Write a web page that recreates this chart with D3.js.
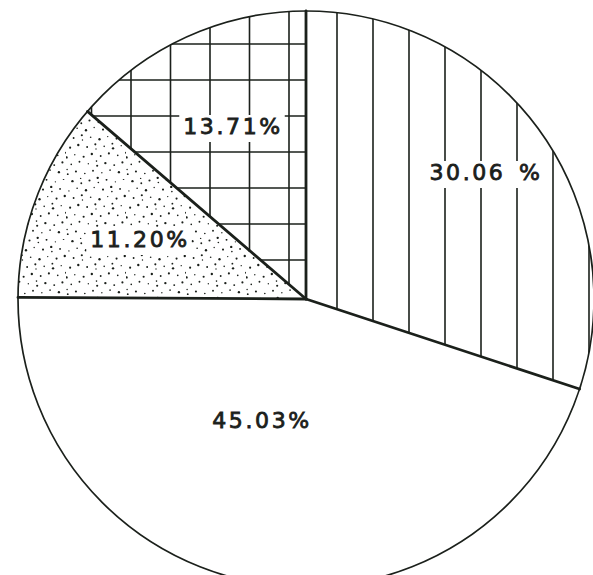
<!DOCTYPE html>
<html>
<head>
<meta charset="utf-8">
<script src="https://cdn.jsdelivr.net/npm/d3@7"></script>
<style>
  html, body { margin: 0; padding: 0; background: #fff; }
  svg { display: block; }
</style>
</head>
<body>
<svg id="chart" width="593" height="575"></svg>
<script>
// Shares of the whole, clockwise from twelve o'clock
const categories = ["A", "B", "C", "D"];
const shares = [30.06, 45.03, 11.20, 13.71];
const labelText = ["30.06 %", "45.03%", "11.20%", "13.71%"];
const fills = ["vertical", "blank", "stipple", "grid"];

const W = 593, H = 575;
const cx = 306, cy = 299, R = 288;
const ink = "#1b201b";

const svg = d3.select("#chart");
const defs = svg.append("defs");

// stipple tile: dots spread by an R2 low-discrepancy sequence
const tile = 60;
const dots = defs.append("pattern")
  .attr("id", "stipple")
  .attr("patternUnits", "userSpaceOnUse")
  .attr("width", tile).attr("height", tile);
const a1 = 0.7548776662, a2 = 0.5698402910;
d3.range(58).forEach(i => {
  const u = (0.5 + i * a1) % 1, v = (0.5 + i * a2) % 1;
  dots.append("circle")
    .attr("cx", u * tile).attr("cy", v * tile)
    .attr("r", 0.7 + ((i * 7) % 5) * 0.12)
    .attr("fill", ink);
});

const pie = d3.pie().sort(null).startAngle(0).endAngle(2 * Math.PI);
const arcs = pie(shares);
const arc = d3.arc().innerRadius(0).outerRadius(R);

const g = svg.append("g").attr("transform", `translate(${cx},${cy})`);

// clip region for each slice
arcs.forEach((a, i) => {
  defs.append("clipPath").attr("id", "clip" + i)
    .append("path").attr("d", arc(a)).attr("transform", `translate(${cx},${cy})`);
});

// slice fills
g.selectAll("path.slice")
  .data(arcs)
  .join("path")
  .attr("class", "slice")
  .attr("d", arc)
  .attr("fill", (d, i) => fills[i] === "stipple" ? "url(#stipple)" : "#fff");

// hatching drawn inside its slice
arcs.forEach((a, i) => {
  const layer = svg.append("g").attr("clip-path", `url(#clip${i})`)
    .attr("stroke", ink).attr("stroke-width", 1.6);
  if (fills[i] === "vertical") {
    d3.range(0, 9).forEach(k => {
      const x = cx + 31 + k * 36;
      layer.append("line").attr("x1", x).attr("x2", x).attr("y1", 0).attr("y2", H);
    });
  } else if (fills[i] === "grid") {
    d3.range(0, 8).forEach(k => {
      const x = cx - 17 - k * 39.5;
      layer.append("line").attr("x1", x).attr("x2", x).attr("y1", 0).attr("y2", H);
    });
    d3.range(0, 9).forEach(k => {
      const y = cy - 39 - k * 36;
      layer.append("line").attr("x1", 0).attr("x2", W).attr("y1", y).attr("y2", y);
    });
  }
});

// value labels, each on a cleared patch of the hatching
const labelPos = [[486, 180], [262, 428], [140, 247], [233, 134]];
const labels = svg.selectAll("g.val")
  .data(arcs)
  .join("g")
  .attr("class", "val");
const bg = labels.append("rect").attr("fill", "#fff");
const txt = labels.append("text")
  .attr("x", (d, i) => labelPos[i][0])
  .attr("y", (d, i) => labelPos[i][1])
  .attr("text-anchor", "middle")
  .attr("font-family", "DejaVu Sans, sans-serif")
  .attr("font-size", 22)
  .attr("letter-spacing", 2.6)
  .attr("word-spacing", 4)
  .attr("fill", ink)
  .attr("stroke", ink)
  .attr("stroke-width", 0.8)
  .text((d, i) => labelText[i]);
txt.each(function (d, i) {
  const b = this.getBBox();
  d3.select(this.parentNode).select("rect")
    .attr("x", b.x - 4).attr("y", b.y + 1)
    .attr("width", b.width + 6).attr("height", b.height + 2);
});

// outline
g.append("circle").attr("r", R).attr("fill", "none")
  .attr("stroke", ink).attr("stroke-width", 1.7);

// slice boundaries
g.selectAll("line.edge")
  .data(arcs)
  .join("line")
  .attr("class", "edge")
  .attr("x1", 0).attr("y1", 0)
  .attr("x2", d => R * Math.sin(d.startAngle))
  .attr("y2", d => -R * Math.cos(d.startAngle))
  .attr("stroke", ink).attr("stroke-width", 2.8)
  .attr("stroke-linecap", "round");
</script>
</body>
</html>
